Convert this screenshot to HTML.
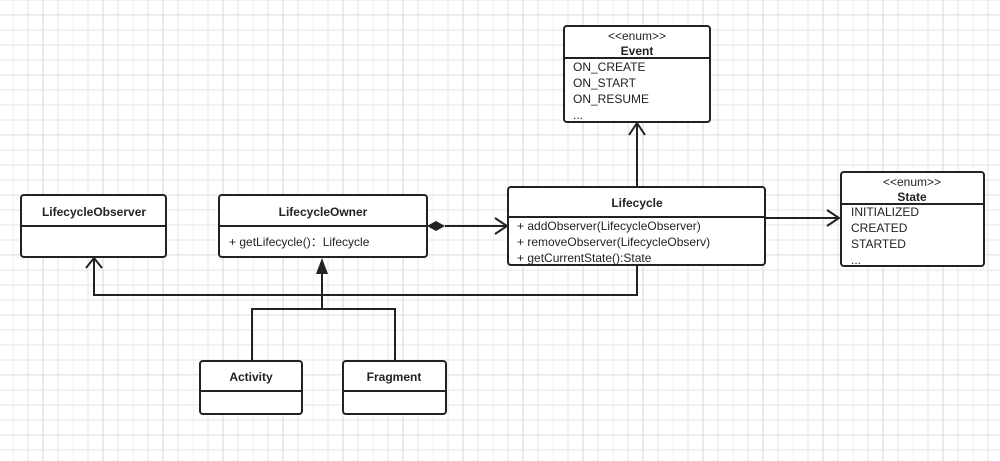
<!DOCTYPE html>
<html><head><meta charset="utf-8"><style>
html,body{margin:0;padding:0;background:#fff}
svg{display:block}
text{font-family:"Liberation Sans",sans-serif;font-size:12px;fill:#222}
.b{font-weight:bold;text-anchor:middle}
</style></head><body>
<svg width="1000" height="461" xmlns="http://www.w3.org/2000/svg">
<defs>
<pattern id="g" width="60" height="60" patternUnits="userSpaceOnUse" x="13" y="15">
<path d="M0 0H60M0 15H60M0 30H60M0 45H60M0 0V60M15 0V60M30 0V60M45 0V60" stroke="#e6e6e6" stroke-width="1" fill="none"/>
<path d="M30 0V60M0 60H60" stroke="#d6d6d6" stroke-width="1" fill="none"/>
</pattern>
</defs>
<rect width="1000" height="461" fill="url(#g)"/>
<g stroke="#222" stroke-width="2" fill="none">
<!-- connectors -->
<path d="M637 187V123M629 135L637 123L645 135"/>
<path d="M765 218H839M827 210L839 218L827 226"/>
<path d="M445 226H507M495 218L507 226L495 234"/>
<path d="M637 265V295H94V258M86 268L94 258L102 268"/>
<path d="M322 272V309M252 360V309H395V360"/>
</g>
<polygon points="427,226 436,221 445,226 436,231" fill="#222"/>
<polygon points="322,258 316,274 328,274" fill="#222"/>
<g stroke="#222" stroke-width="2" fill="#fff">
<rect x="21" y="195" width="145" height="62" rx="3"/>
<rect x="219" y="195" width="208" height="62" rx="3"/>
<rect x="508" y="187" width="257" height="78" rx="3"/>
<rect x="564" y="26" width="146" height="96" rx="3"/>
<rect x="841" y="172" width="143" height="94" rx="3"/>
<rect x="200" y="361" width="102" height="53" rx="3"/>
<rect x="343" y="361" width="103" height="53" rx="3"/>
<path d="M21 226H166M219 226H427M508 217H765M564 58H710M841 204H984M200 391H302M343 391H446" fill="none"/>
</g>
<text class="b" x="94" y="216">LifecycleObserver</text>
<text class="b" x="323" y="216">LifecycleOwner</text>
<text x="229" y="246">+ getLifecycle()：Lifecycle</text>
<text class="b" x="637" y="207">Lifecycle</text>
<text x="517" y="230">+ addObserver(LifecycleObserver)</text>
<text x="517" y="246">+ removeObserver(LifecycleObserv)</text>
<text x="517" y="262">+ getCurrentState():State</text>
<text class="b" x="637" y="40" style="font-weight:normal">&lt;&lt;enum&gt;&gt;</text>
<text class="b" x="637" y="55">Event</text>
<text x="573" y="71">ON_CREATE</text>
<text x="573" y="87">ON_START</text>
<text x="573" y="103">ON_RESUME</text>
<text x="573" y="119">...</text>
<text class="b" x="912" y="186" style="font-weight:normal">&lt;&lt;enum&gt;&gt;</text>
<text class="b" x="912" y="201">State</text>
<text x="851" y="216">INITIALIZED</text>
<text x="851" y="232">CREATED</text>
<text x="851" y="248">STARTED</text>
<text x="851" y="264">...</text>
<text class="b" x="251" y="381">Activity</text>
<text class="b" x="394" y="381">Fragment</text>
</svg>
</body></html>
